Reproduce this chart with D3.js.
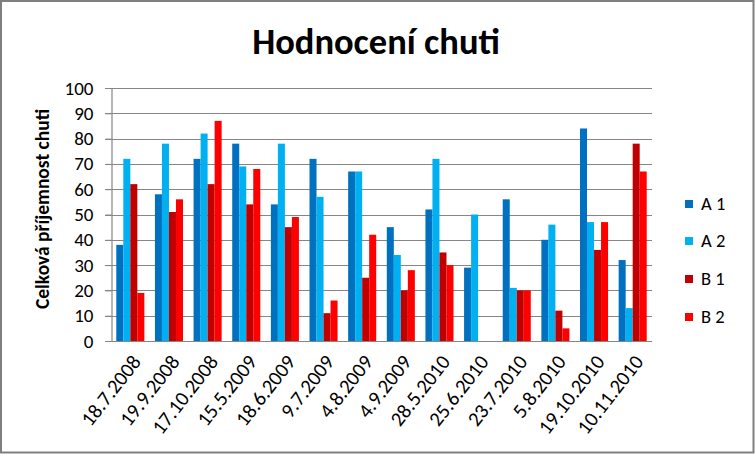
<!DOCTYPE html>
<html>
<head>
<meta charset="utf-8">
<script src="https://cdn.jsdelivr.net/npm/d3@7"></script>
<style>
  html, body { margin: 0; padding: 0; background: #fff; }
  svg { display: block; }
  text { font-family: Carlito, Lato, "Open Sans", sans-serif; fill: #000; }
</style>
</head>
<body>
<svg id="chart" width="755" height="454"></svg>
<script>
const categories = ["18.7.2008","19.9.2008","17.10.2008","15.5.2009","18.6.2009","9.7.2009","4.8.2009","4.9.2009","28.5.2010","25.6.2010","23.7.2010","5.8.2010","19.10.2010","10.11.2010"];
const seriesNames = ["A 1","A 2","B 1","B 2"];
const a1 = [38,58,72,78,54,72,67,45,52,29,56,40,84,32];
const a2 = [72,78,82,69,78,57,67,34,72,50,21,46,47,13];
const b1 = [62,51,62,54,45,11,25,20,35,null,20,12,36,78];
const b2 = [19,56,87,68,49,16,42,28,30,null,20,5,47,67];
const yTicks = [0,10,20,30,40,50,60,70,80,90,100];
const colors = ["#0070C0","#00B0F0","#C00000","#FF0000"];
const titleText = "Hodnocení chuti";
const yTitle = "Celková příjemnost chuti";

const seriesValues = [a1, a2, b1, b2];
const svg = d3.select("#chart");

// outer frame
svg.append("rect").attr("x",1).attr("y",1).attr("width",752.5).attr("height",451.5)
  .attr("fill","#fff").attr("stroke","#7f7f7f").attr("stroke-width",2);

const plot = {left:111, right:652, top:88, bottom:341};
const y = d3.scaleLinear().domain([0,100]).range([plot.bottom, plot.top]);
const x0 = d3.scaleBand().domain(categories).range([plot.left, plot.right]).paddingInner(0).paddingOuter(0);
const gap = x0.bandwidth()*0.137;
const x1 = d3.scaleBand().domain(seriesNames).range([gap, x0.bandwidth()-gap]).padding(0);

// gridlines
svg.append("g").selectAll("line").data(yTicks).join("line")
  .attr("x1", plot.left-6).attr("x2", plot.right)
  .attr("y1", d=>Math.round(y(d))+0.5).attr("y2", d=>Math.round(y(d))+0.5)
  .attr("stroke","#868686").attr("stroke-width",1.2);

// y axis
const yAxis = svg.append("g").attr("transform",`translate(${plot.left+0.5},0)`)
  .call(d3.axisLeft(y).tickValues(yTicks).tickSize(6).tickPadding(12));
yAxis.select(".domain").attr("stroke","#868686").attr("stroke-width",1.2);
yAxis.selectAll(".tick line").attr("stroke","#868686");
yAxis.selectAll(".tick text").attr("font-size",19).style("font-family","Carlito, Lato, sans-serif").attr("fill","#000");

// bars
const g = svg.append("g");
categories.forEach((c,i)=>{
  seriesNames.forEach((s,j)=>{
    const v = seriesValues[j][i];
    if (v == null) return;
    g.append("rect")
      .attr("x", x0(c)+x1(s))
      .attr("y", y(v))
      .attr("width", x1.bandwidth())
      .attr("height", y(0)-y(v))
      .attr("fill", colors[j]);
  });
});

// x axis labels
const xl = svg.append("g");
categories.forEach(c=>{
  const cx = x0(c)+x0.bandwidth()/2;
  xl.append("text")
    .attr("transform",`translate(${cx},${plot.bottom+12}) rotate(-52)`)
    .attr("text-anchor","end")
    .attr("dy","0.72em")
    .attr("font-size",20.5)
    .text(c);
});

// title
svg.append("text").attr("x",376).attr("y",54).attr("text-anchor","middle")
  .attr("font-size",36.5).attr("font-weight","bold").text(titleText);

// y title
svg.append("text").attr("transform",`translate(49,209) rotate(-90)`)
  .attr("text-anchor","middle").attr("font-size",19.5).attr("font-weight","bold").text(yTitle);

// legend
const leg = svg.append("g");
const legY = [204,241,279,317];
seriesNames.forEach((s,j)=>{
  leg.append("rect").attr("x",685).attr("y",legY[j]-4).attr("width",8).attr("height",8).attr("fill",colors[j]);
  leg.append("text").attr("x",701).attr("y",legY[j]).attr("dy","0.35em").attr("font-size",18.5).text(s);
});
</script>
</body>
</html>
